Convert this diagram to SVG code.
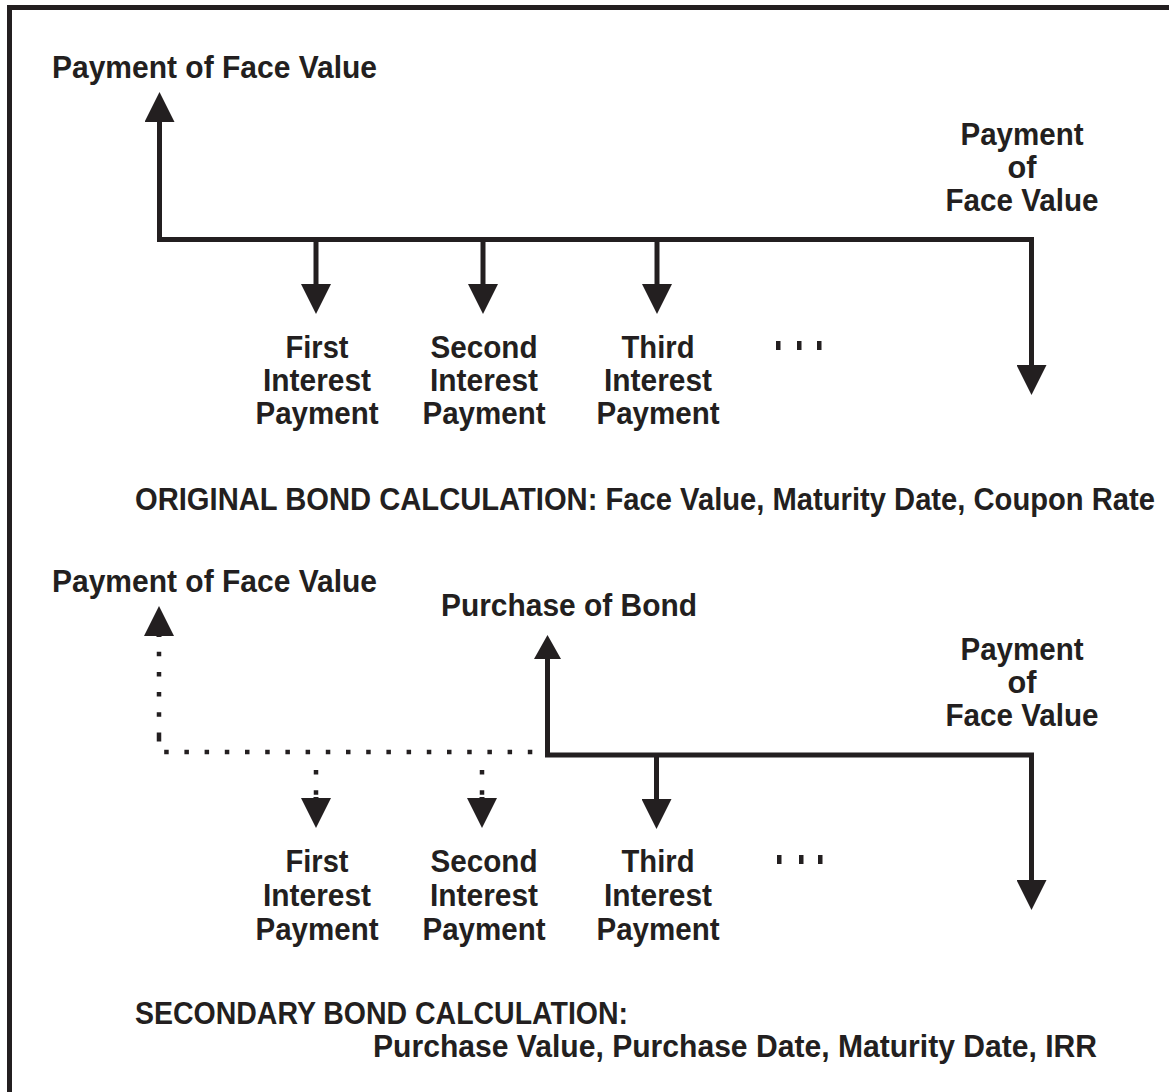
<svg xmlns="http://www.w3.org/2000/svg" width="1169" height="1092" viewBox="0 0 1169 1092">
<style>
text{font-family:"Liberation Sans",Arial,sans-serif;font-weight:bold;font-size:30.5px;fill:#231f20}
.c{text-anchor:middle}
.ln{fill:none;stroke:#231f20;stroke-width:5;stroke-linejoin:miter;stroke-linecap:butt}
.dot{fill:none;stroke:#231f20;stroke-width:4.5;stroke-dasharray:4.5 15.7}
.tick{fill:#231f20}
</style>
<defs>
<marker id="ah" markerUnits="userSpaceOnUse" viewBox="0 -15 30 30" markerWidth="30" markerHeight="30" refX="0" refY="0" orient="auto-start-reverse">
<path d="M0,-15 L30,0 L0,15 Z" fill="#231f20"/>
</marker>
<marker id="ahs" markerUnits="userSpaceOnUse" viewBox="0 -13.5 24 27" markerWidth="24" markerHeight="27" refX="0" refY="0" orient="auto-start-reverse">
<path d="M0,-13.5 L24,0 L0,13.5 Z" fill="#231f20"/>
</marker>
</defs>
<path id="frame" class="ln" d="M1169,7.5 H9.5 V1092"/>
<g id="connectors">
<path class="ln" d="M159.5,122 V239.5 H1031.5 V365" marker-start="url(#ah)" marker-end="url(#ah)"/>
<path class="ln" d="M316,239.5 V284" marker-end="url(#ah)"/>
<path class="ln" d="M483,239.5 V284" marker-end="url(#ah)"/>
<path class="ln" d="M657,239.5 V284" marker-end="url(#ah)"/>
<path class="dot" d="M159,737 V752 H545"/>
<path class="dot" d="M159,737 V637"/>
<path class="ln" d="M159,637 V636" marker-end="url(#ah)" stroke-width="0"/>
<path class="ln" d="M547.5,659 V755 H1031.5 V880" marker-start="url(#ahs)" marker-end="url(#ah)"/>
<path class="ln" d="M656.5,755 V799" marker-end="url(#ah)"/>
<path class="dot" d="M316,755 V798" stroke-dashoffset="-15"/>
<path class="ln" d="M316,797 V798" marker-end="url(#ah)" stroke-width="0"/>
<path class="dot" d="M482,755 V798" stroke-dashoffset="-15"/>
<path class="ln" d="M482,797 V798" marker-end="url(#ah)" stroke-width="0"/>
</g>
<g id="top-start-label"><text x="52" y="78" textLength="325" lengthAdjust="spacingAndGlyphs">Payment of Face Value</text></g>
<g id="top-end-label"><text class="c" x="1022" y="145" textLength="123" lengthAdjust="spacingAndGlyphs">Payment</text><text class="c" x="1022" y="178" textLength="29" lengthAdjust="spacingAndGlyphs">of</text><text class="c" x="1022" y="211" textLength="153" lengthAdjust="spacingAndGlyphs">Face Value</text></g>
<g id="top-first"><text class="c" x="317" y="358" textLength="63" lengthAdjust="spacingAndGlyphs">First</text><text class="c" x="317" y="391" textLength="108" lengthAdjust="spacingAndGlyphs">Interest</text><text class="c" x="317" y="424" textLength="123" lengthAdjust="spacingAndGlyphs">Payment</text></g>
<g id="top-second"><text class="c" x="484" y="358" textLength="107" lengthAdjust="spacingAndGlyphs">Second</text><text class="c" x="484" y="391" textLength="108" lengthAdjust="spacingAndGlyphs">Interest</text><text class="c" x="484" y="424" textLength="123" lengthAdjust="spacingAndGlyphs">Payment</text></g>
<g id="top-third"><text class="c" x="658" y="358" textLength="73" lengthAdjust="spacingAndGlyphs">Third</text><text class="c" x="658" y="391" textLength="108" lengthAdjust="spacingAndGlyphs">Interest</text><text class="c" x="658" y="424" textLength="123" lengthAdjust="spacingAndGlyphs">Payment</text></g>
<g id="top-ellipsis"><rect class="tick" x="776" y="341" width="4.5" height="9"/><rect class="tick" x="797" y="341" width="4.5" height="9"/><rect class="tick" x="817" y="341" width="4.5" height="9"/></g>
<g id="top-title"><text x="135" y="510" font-size="29" textLength="1020" lengthAdjust="spacingAndGlyphs">ORIGINAL BOND CALCULATION: Face Value, Maturity Date, Coupon Rate</text></g>
<g id="bottom-start-label"><text x="52" y="592" textLength="325" lengthAdjust="spacingAndGlyphs">Payment of Face Value</text></g>
<g id="bottom-purchase-label"><text x="441" y="616" textLength="256" lengthAdjust="spacingAndGlyphs">Purchase of Bond</text></g>
<g id="bottom-end-label"><text class="c" x="1022" y="660" textLength="123" lengthAdjust="spacingAndGlyphs">Payment</text><text class="c" x="1022" y="693" textLength="29" lengthAdjust="spacingAndGlyphs">of</text><text class="c" x="1022" y="726" textLength="153" lengthAdjust="spacingAndGlyphs">Face Value</text></g>
<g id="bottom-first"><text class="c" x="317" y="872" textLength="63" lengthAdjust="spacingAndGlyphs">First</text><text class="c" x="317" y="906" textLength="108" lengthAdjust="spacingAndGlyphs">Interest</text><text class="c" x="317" y="940" textLength="123" lengthAdjust="spacingAndGlyphs">Payment</text></g>
<g id="bottom-second"><text class="c" x="484" y="872" textLength="107" lengthAdjust="spacingAndGlyphs">Second</text><text class="c" x="484" y="906" textLength="108" lengthAdjust="spacingAndGlyphs">Interest</text><text class="c" x="484" y="940" textLength="123" lengthAdjust="spacingAndGlyphs">Payment</text></g>
<g id="bottom-third"><text class="c" x="658" y="872" textLength="73" lengthAdjust="spacingAndGlyphs">Third</text><text class="c" x="658" y="906" textLength="108" lengthAdjust="spacingAndGlyphs">Interest</text><text class="c" x="658" y="940" textLength="123" lengthAdjust="spacingAndGlyphs">Payment</text></g>
<g id="bottom-ellipsis"><rect class="tick" x="777" y="855" width="4.5" height="9"/><rect class="tick" x="799" y="855" width="4.5" height="9"/><rect class="tick" x="818" y="855" width="4.5" height="9"/></g>
<g id="bottom-title"><text x="135" y="1024" textLength="493" lengthAdjust="spacingAndGlyphs">SECONDARY BOND CALCULATION:</text><text x="373" y="1057" textLength="724" lengthAdjust="spacingAndGlyphs">Purchase Value, Purchase Date, Maturity Date, IRR</text></g>
</svg>
